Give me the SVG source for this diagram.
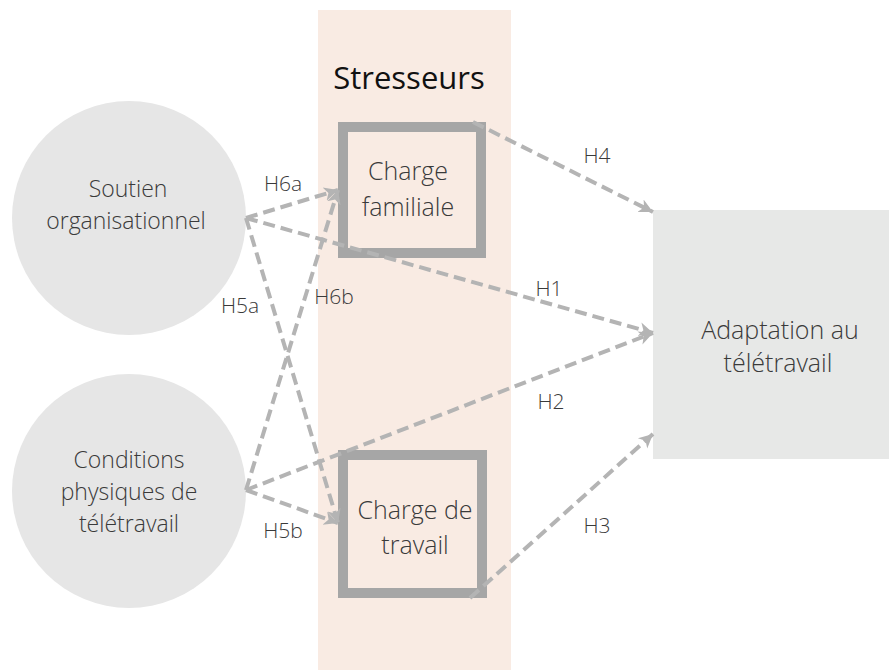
<svg xmlns="http://www.w3.org/2000/svg" width="889" height="670" viewBox="0 0 889 670">
  <style>
    text { font-family: "Open Sans", "Liberation Sans", sans-serif; font-weight: 300; fill: #3a3a3a; text-anchor: middle; }
    .node { font-size: 23px; }
    .big { font-size: 25px; }
    .lbl { font-size: 21px; }
    .title { font-size: 31px; font-weight: 400; fill: #111; }
    .circle { fill: #e6e6e6; }
    .box { fill: none; stroke: #a6a6a6; stroke-width: 10; }
    .edge { fill: none; stroke: #b4b4b4; stroke-width: 4; stroke-dasharray: 12 6; marker-end: url(#arrow); }
  </style>
  <defs>
    <marker id="arrow" markerUnits="userSpaceOnUse" markerWidth="16" markerHeight="16" refX="14" refY="8" orient="auto">
      <path d="M0,1 L14,8 L0,15 L4,8 Z" fill="#b4b4b4"/>
    </marker>
  </defs>

  <rect width="889" height="670" fill="#ffffff"/>

  <!-- stressor band -->
  <rect id="band" x="318" y="10" width="193" height="660" fill="#f9ebe3"/>
  <text class="title" x="409" y="89">Stresseurs</text>

  <g id="soutien">
    <circle class="circle" cx="129" cy="218" r="117"/>
    <text class="node" x="128" y="197">Soutien</text>
    <text class="node" x="126" y="229">organisationnel</text>
  </g>

  <g id="conditions">
    <circle class="circle" cx="129" cy="491" r="117"/>
    <text class="node" x="129" y="468">Conditions</text>
    <text class="node" x="129" y="500">physiques de</text>
    <text class="node" x="129" y="532">télétravail</text>
  </g>

  <g id="adaptation">
    <rect x="653" y="210" width="236" height="249" fill="#e7e8e7"/>
    <text class="big" x="780" y="339">Adaptation au</text>
    <text class="big" x="778" y="372">télétravail</text>
  </g>

  <g id="charge-familiale">
    <rect class="box" x="343" y="127" width="138" height="126"/>
    <text class="big" x="408" y="180">Charge</text>
    <text class="big" x="408" y="216">familiale</text>
  </g>

  <g id="charge-travail">
    <rect class="box" x="343" y="455" width="139" height="138"/>
    <text class="big" x="415" y="519">Charge de</text>
    <text class="big" x="415" y="554">travail</text>
  </g>

  <g id="connectors">
    <line class="edge" x1="246" y1="218" x2="338" y2="190"/>
    <line class="edge" x1="246" y1="218" x2="653" y2="333"/>
    <line class="edge" x1="246" y1="218" x2="338" y2="523"/>
    <line class="edge" x1="246" y1="490" x2="338" y2="190"/>
    <line class="edge" x1="246" y1="490" x2="653" y2="333"/>
    <line class="edge" x1="246" y1="490" x2="338" y2="523"/>
    <line class="edge" x1="473" y1="122" x2="653" y2="212"/>
    <line class="edge" x1="470" y1="598" x2="653" y2="434"/>
  </g>

  <g id="labels">
    <text class="lbl" x="283" y="191">H6a</text>
    <text class="lbl" x="240" y="313">H5a</text>
    <text class="lbl" x="334" y="304">H6b</text>
    <text class="lbl" x="549" y="296">H1</text>
    <text class="lbl" x="551" y="409">H2</text>
    <text class="lbl" x="597" y="163">H4</text>
    <text class="lbl" x="597" y="533">H3</text>
    <text class="lbl" x="283" y="538">H5b</text>
  </g>
</svg>
